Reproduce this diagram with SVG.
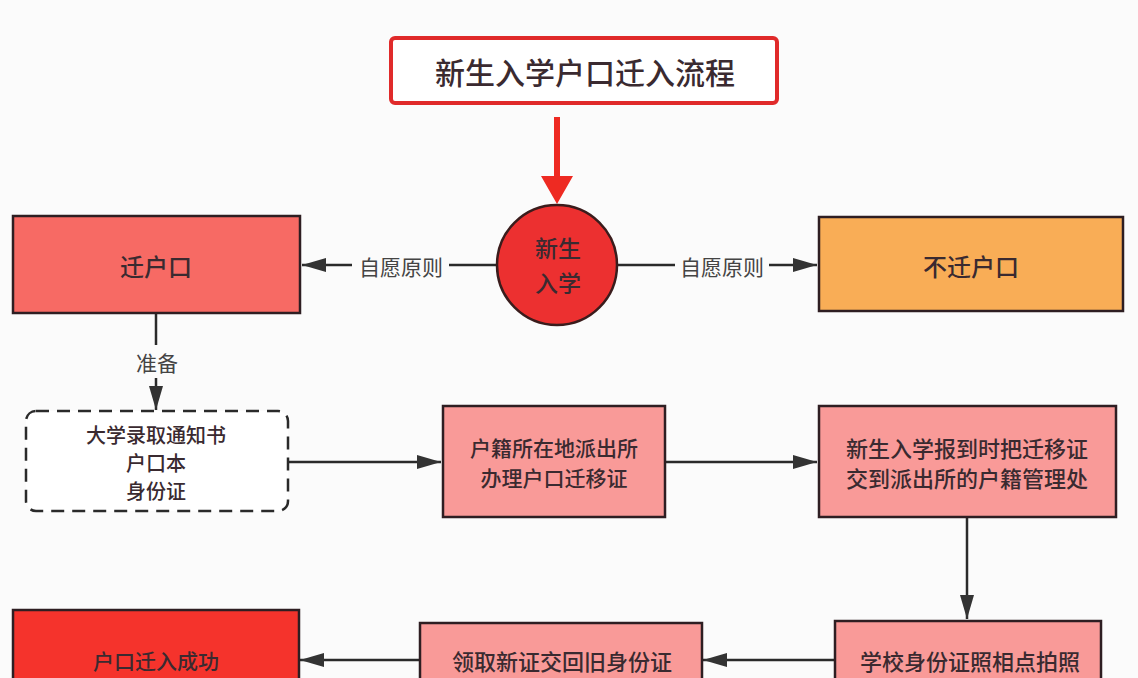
<svg xmlns="http://www.w3.org/2000/svg" width="1138" height="678" viewBox="0 0 1138 678">
<defs>
<style>
.t{font-family:"Noto Sans CJK SC","Liberation Sans",sans-serif;fill:#3a2a30;text-anchor:middle;dominant-baseline:central;font-weight:500}
.box{stroke:#2e1e22;stroke-width:2.5}
.ln{stroke:#2a2a2a;stroke-width:2.5;fill:none}
.lbl{font-family:"Noto Sans CJK SC","Liberation Sans",sans-serif;fill:#444;font-size:21px;text-anchor:middle;dominant-baseline:central}
</style>
<marker id="ah2" viewBox="0 0 24 14" refX="24" refY="7" markerWidth="24" markerHeight="14" markerUnits="userSpaceOnUse" orient="auto">
<path d="M0,0 L24,7 L0,14 z" fill="#333"/>
</marker>
</defs>
<rect width="1138" height="678" fill="#fbfbfb"/>

<g id="title">
<rect x="391" y="38" width="386" height="65" rx="4" fill="#fff" stroke="#e02a2a" stroke-width="4"/>
<text class="t" x="585" y="71" font-size="30">新生入学户口迁入流程</text>
</g>

<g id="connectors">
<path d="M554,117 L560,117 L560,176 L573,176 L557,204 L541,176 L554,176 Z" fill="#ee2a22"/>
<line class="ln" x1="496" y1="265" x2="449" y2="265"/>
<line class="ln" x1="352" y1="265" x2="302" y2="265" marker-end="url(#ah2)"/>
<text class="lbl" x="401" y="266">自愿原则</text>
<line class="ln" x1="618" y1="265" x2="675" y2="265"/>
<line class="ln" x1="769" y1="265" x2="817" y2="265" marker-end="url(#ah2)"/>
<text class="lbl" x="722" y="266">自愿原则</text>
<line class="ln" x1="156" y1="314" x2="156" y2="345"/>
<text class="lbl" x="157" y="362">准备</text>
<line class="ln" x1="156" y1="378" x2="156" y2="410" marker-end="url(#ah2)"/>
<line class="ln" x1="289" y1="462" x2="441" y2="462" marker-end="url(#ah2)"/>
<line class="ln" x1="665" y1="462" x2="817" y2="462" marker-end="url(#ah2)"/>
<line class="ln" x1="967" y1="517" x2="967" y2="619" marker-end="url(#ah2)"/>
<line class="ln" x1="835" y1="660" x2="703" y2="660" marker-end="url(#ah2)"/>
<line class="ln" x1="420" y1="660" x2="300" y2="660" marker-end="url(#ah2)"/>
</g>

<g id="start">
<circle cx="557" cy="265" r="60" fill="#ec3030" stroke="#3a1c1c" stroke-width="2.5"/>
<text class="t" x="558" y="247" font-size="23">新生</text>
<text class="t" x="558" y="282" font-size="23">入学</text>
</g>

<g id="move">
<rect class="box" x="13" y="216" width="287" height="97" fill="#f76a64"/>
<text class="t" x="156" y="265" font-size="24">迁户口</text>
</g>

<g id="nomove">
<rect class="box" x="819" y="217" width="304" height="94" fill="#f9ad56"/>
<text class="t" x="971" y="265" font-size="24">不迁户口</text>
</g>

<g id="docs">
<rect x="26" y="411" width="262" height="100" rx="10" fill="#fff" stroke="#2a2a2a" stroke-width="2.5" stroke-dasharray="13,8"/>
<text class="t" x="156" y="434" font-size="20">大学录取通知书</text>
<text class="t" x="156" y="462" font-size="20">户口本</text>
<text class="t" x="156" y="490" font-size="20">身份证</text>
</g>

<g id="police">
<rect class="box" x="443" y="406" width="222" height="111" fill="#f99a98"/>
<text class="t" x="554" y="447" font-size="21">户籍所在地派出所</text>
<text class="t" x="554" y="477" font-size="21">办理户口迁移证</text>
</g>

<g id="report">
<rect class="box" x="819" y="406" width="297" height="111" fill="#f99a98"/>
<text class="t" x="967" y="447" font-size="22">新生入学报到时把迁移证</text>
<text class="t" x="967" y="477" font-size="22">交到派出所的户籍管理处</text>
</g>

<g id="photo">
<rect class="box" x="835" y="621" width="266" height="70" fill="#f99a98"/>
<text class="t" x="970" y="660" font-size="22">学校身份证照相点拍照</text>
</g>

<g id="newid">
<rect class="box" x="420" y="623" width="282" height="70" fill="#f99a98"/>
<text class="t" x="562" y="660" font-size="22">领取新证交回旧身份证</text>
</g>

<g id="success">
<rect class="box" x="13" y="610" width="286" height="80" fill="#f5332c"/>
<text class="t" x="156" y="660" font-size="21">户口迁入成功</text>
</g>
</svg>
